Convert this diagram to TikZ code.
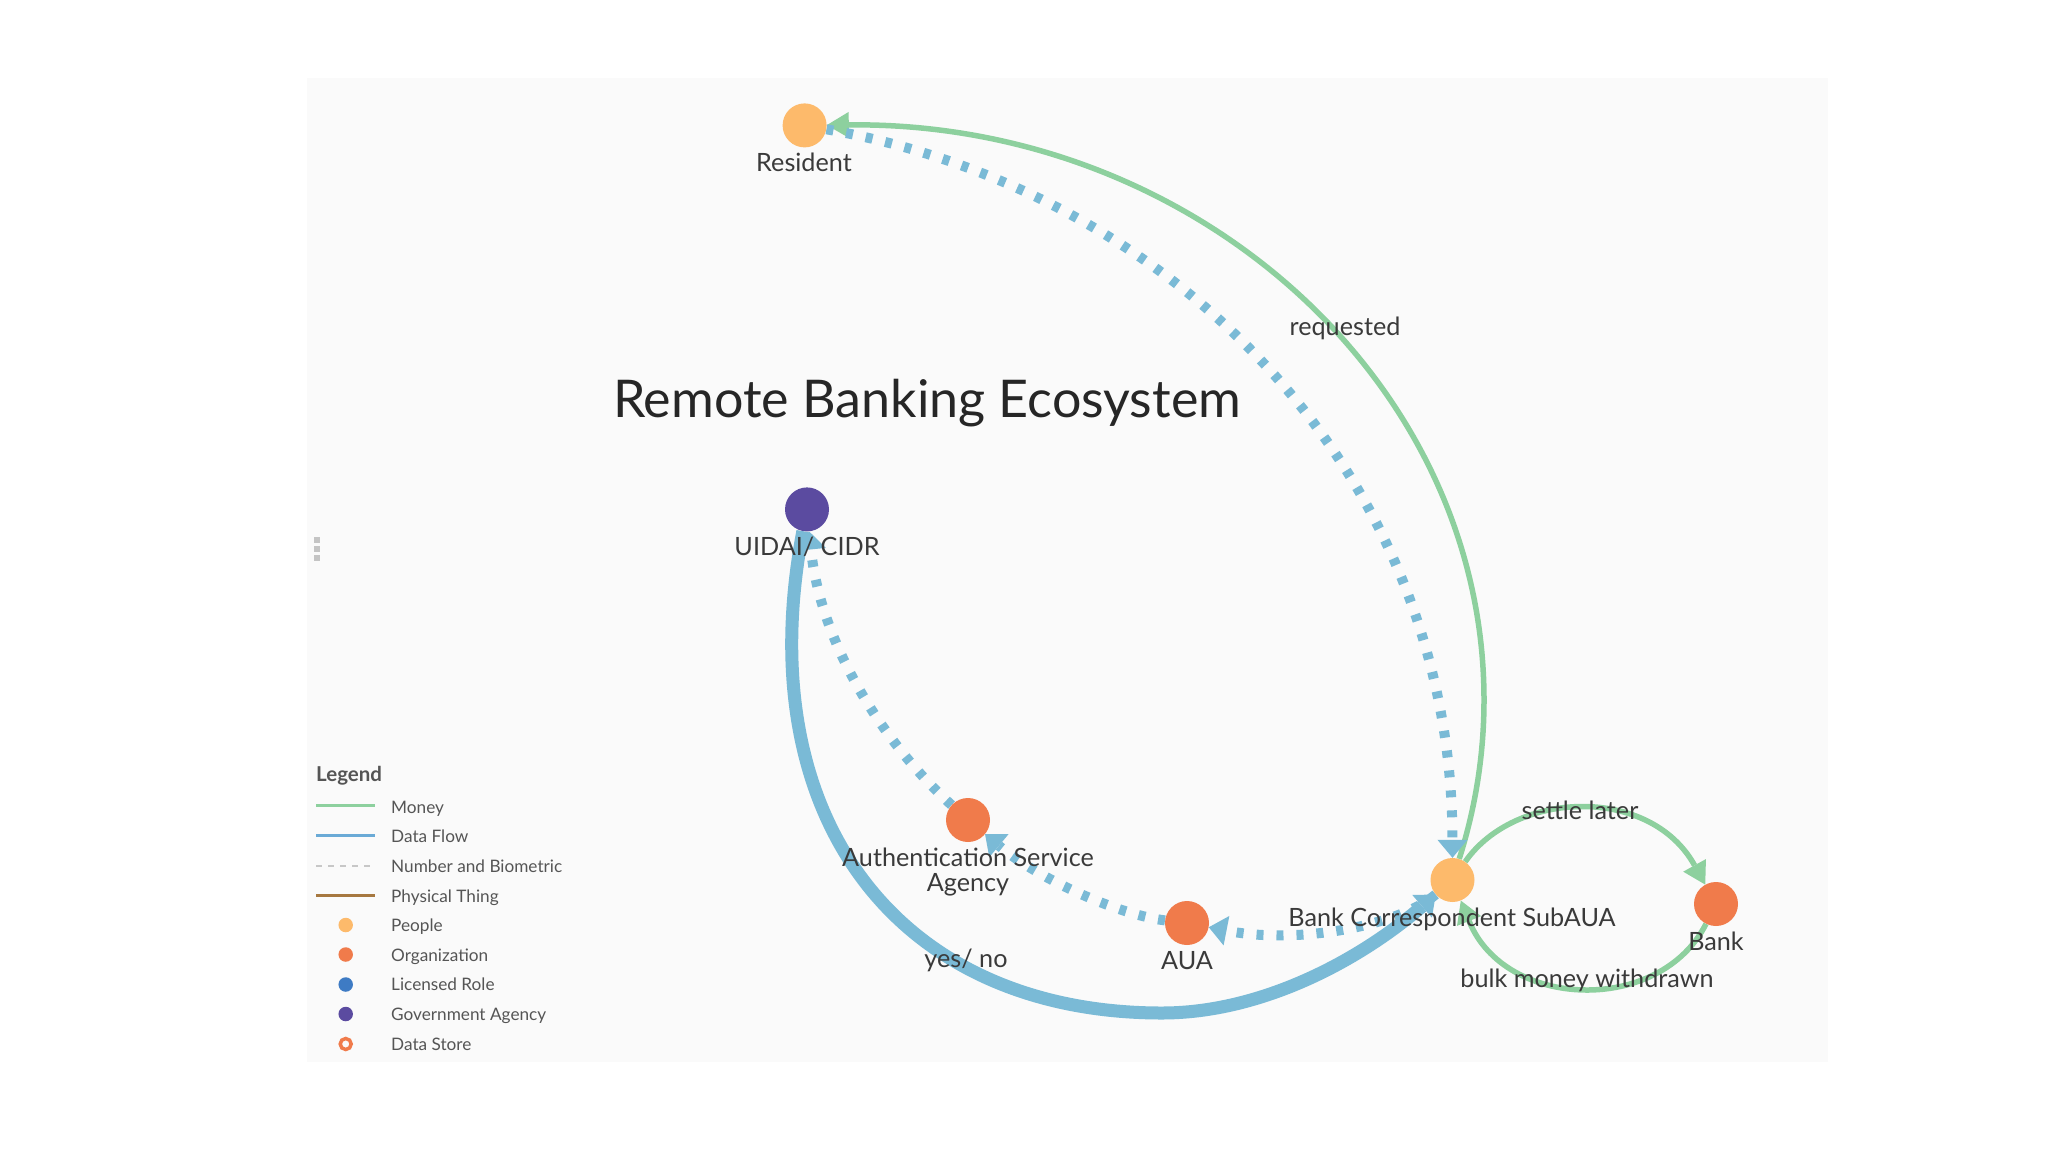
\documentclass[tikz,border=0pt]{standalone}
\usepackage{fontspec}
\setmainfont{Lato}
\usetikzlibrary{arrows.meta}
\definecolor{moneyc}{RGB}{141,208,158}
\definecolor{flowc}{RGB}{122,186,214}
\definecolor{legflow}{RGB}{106,170,214}
\definecolor{peoplec}{RGB}{253,186,107}
\definecolor{orgc}{RGB}{240,123,75}
\definecolor{licc}{RGB}{62,123,196}
\definecolor{govc}{RGB}{91,75,160}
\definecolor{physc}{RGB}{166,120,64}
\definecolor{txt}{RGB}{58,58,58}
\definecolor{legtxt}{RGB}{85,85,85}
\definecolor{panelc}{RGB}{250,250,250}
\definecolor{gripc}{RGB}{196,196,196}
\pgfdeclarelayer{bg}
\pgfdeclarelayer{edges}
\pgfsetlayers{bg,edges,main}
\begin{document}
\begin{tikzpicture}[x=1pt,y=-1pt,
  dot/.style={circle,minimum size=44pt,inner sep=0pt,draw=none},
  lbl/.style={font=\fontsize{25.2}{29}\selectfont,text=txt,inner sep=0pt,anchor=base},
  legl/.style={font=\fontsize{17.2}{20}\selectfont,text=legtxt,inner sep=0pt,anchor=base west},
  money/.style={draw=moneyc,line width=5.5pt,-{Triangle[length=22pt,width=26pt,line width=0pt]}},
  dataflow/.style={draw=flowc,line width=13pt,-{Triangle[length=18pt,width=30pt,line width=0pt]}},
  numbio/.style={draw=flowc,line width=10pt,dash pattern=on 7pt off 13pt,-{Triangle[length=18pt,width=30pt,line width=0pt]}},
  legdot/.style={circle,minimum size=14.5pt,inner sep=0pt,draw=none}
]
\begin{pgfonlayer}{bg}
\fill[white] (0,0) rectangle (2048,1152);
\fill[panelc] (307,78) rectangle (1828,1062);
\fill[gripc] (314,537) rectangle (320,543);
\fill[gripc] (314,546) rectangle (320,552);
\fill[gripc] (314,555) rectangle (320,561);
\end{pgfonlayer}
\useasboundingbox (0,0) rectangle (2048,1152);

% nodes
\node[dot,fill=peoplec] (res) at (804.6,125.4) {};
\node[dot,fill=govc] (uid) at (807,509.4) {};
\node[dot,fill=orgc] (asa) at (968,820) {};
\node[dot,fill=orgc] (aua) at (1187,923) {};
\node[dot,fill=peoplec] (bc) at (1452.5,880) {};
\node[dot,fill=orgc] (bank) at (1716,904) {};

% labels
\node[lbl] (resl) at (804,171.8) {Resident};
\node[lbl] (uidl) at (807,555.7) {UIDAI/ CIDR};
\node[lbl] (asal1) at (968,866.6) {Authentication Service};
\node[lbl] (asal2) at (968,891.4) {Agency};
\node[lbl] (aual) at (1187,969.8) {AUA};
\node[lbl] (bcl) at (1452,926.7) {Bank Correspondent SubAUA};
\node[lbl] (bankl) at (1716,950.2) {Bank};

\node[font=\fontsize{52}{60}\selectfont,text=black!85,inner sep=0pt,anchor=base] (title) at (927,417) {Remote Banking Ecosystem};

% edges
\begin{pgfonlayer}{edges}
\draw[money] (bc) .. controls (1476,806) and (1484,753) .. (1484,700) .. controls (1484,380) and (1192,121) .. (res);
\draw[numbio] (res) .. controls (1174,191) and (1452,472) .. (bc);
\draw[dataflow] (uid) .. controls (748,820) and (900,1013) .. (1162,1013) .. controls (1262,1013) and (1360,960) .. (bc);
\draw[numbio] (bc) .. controls (1400,925) and (1300,945) .. (aua);
\draw[numbio] (aua) .. controls (1120,915) and (1040,880) .. (asa);
\draw[numbio] (asa) .. controls (880,740) and (820,640) .. (uid);
\draw[money] (bc) .. controls (1515,790) and (1650,785) .. (bank);
\draw[money] (bank) .. controls (1660,1015) and (1505,1010) .. (bc);
\end{pgfonlayer}

% edge labels
\node[lbl] (lreq) at (1345,335.7) {requested};
\node[lbl] (lyes) at (966,967.8) {yes/ no};
\node[lbl] (lset) at (1580,819) {settle later};
\node[lbl] (lbulk) at (1587,987.4) {bulk money withdrawn};

% legend
\node[font=\bfseries\fontsize{20.5}{24}\selectfont,text=legtxt,inner sep=0pt,anchor=base west] (legt) at (316,781.5) {Legend};
\draw[moneyc,line width=3pt] (316,805) -- (375,805);
\node[legl] (lg1) at (391,813) {Money};
\draw[legflow,line width=3pt] (316,835) -- (375,835);
\node[legl] (lg2) at (391,842.5) {Data Flow};
\draw[black!22,line width=2pt,dash pattern=on 6pt off 6pt] (316,865.5) -- (375,865.5);
\node[legl] (lg3) at (391,872) {Number and Biometric};
\draw[physc,line width=3pt] (316,895) -- (375,895);
\node[legl] (lg4) at (391,902) {Physical Thing};
\node[legdot,fill=peoplec] (ld1) at (345.7,925) {};
\node[legl] (lg5) at (391,931.5) {People};
\node[legdot,fill=orgc] (ld2) at (345.7,954.5) {};
\node[legl] (lg6) at (391,961) {Organization};
\node[legdot,fill=licc] (ld3) at (345.7,984.5) {};
\node[legl] (lg7) at (391,990.5) {Licensed Role};
\node[legdot,fill=govc] (ld4) at (345.7,1014) {};
\node[legl] (lg8) at (391,1020) {Government Agency};
\node[circle,minimum size=11pt,inner sep=0pt,draw=orgc,line width=3.5pt] (ld5) at (345.7,1044) {};
\node[legl] (lg9) at (391,1050) {Data Store};
\end{tikzpicture}
\end{document}
